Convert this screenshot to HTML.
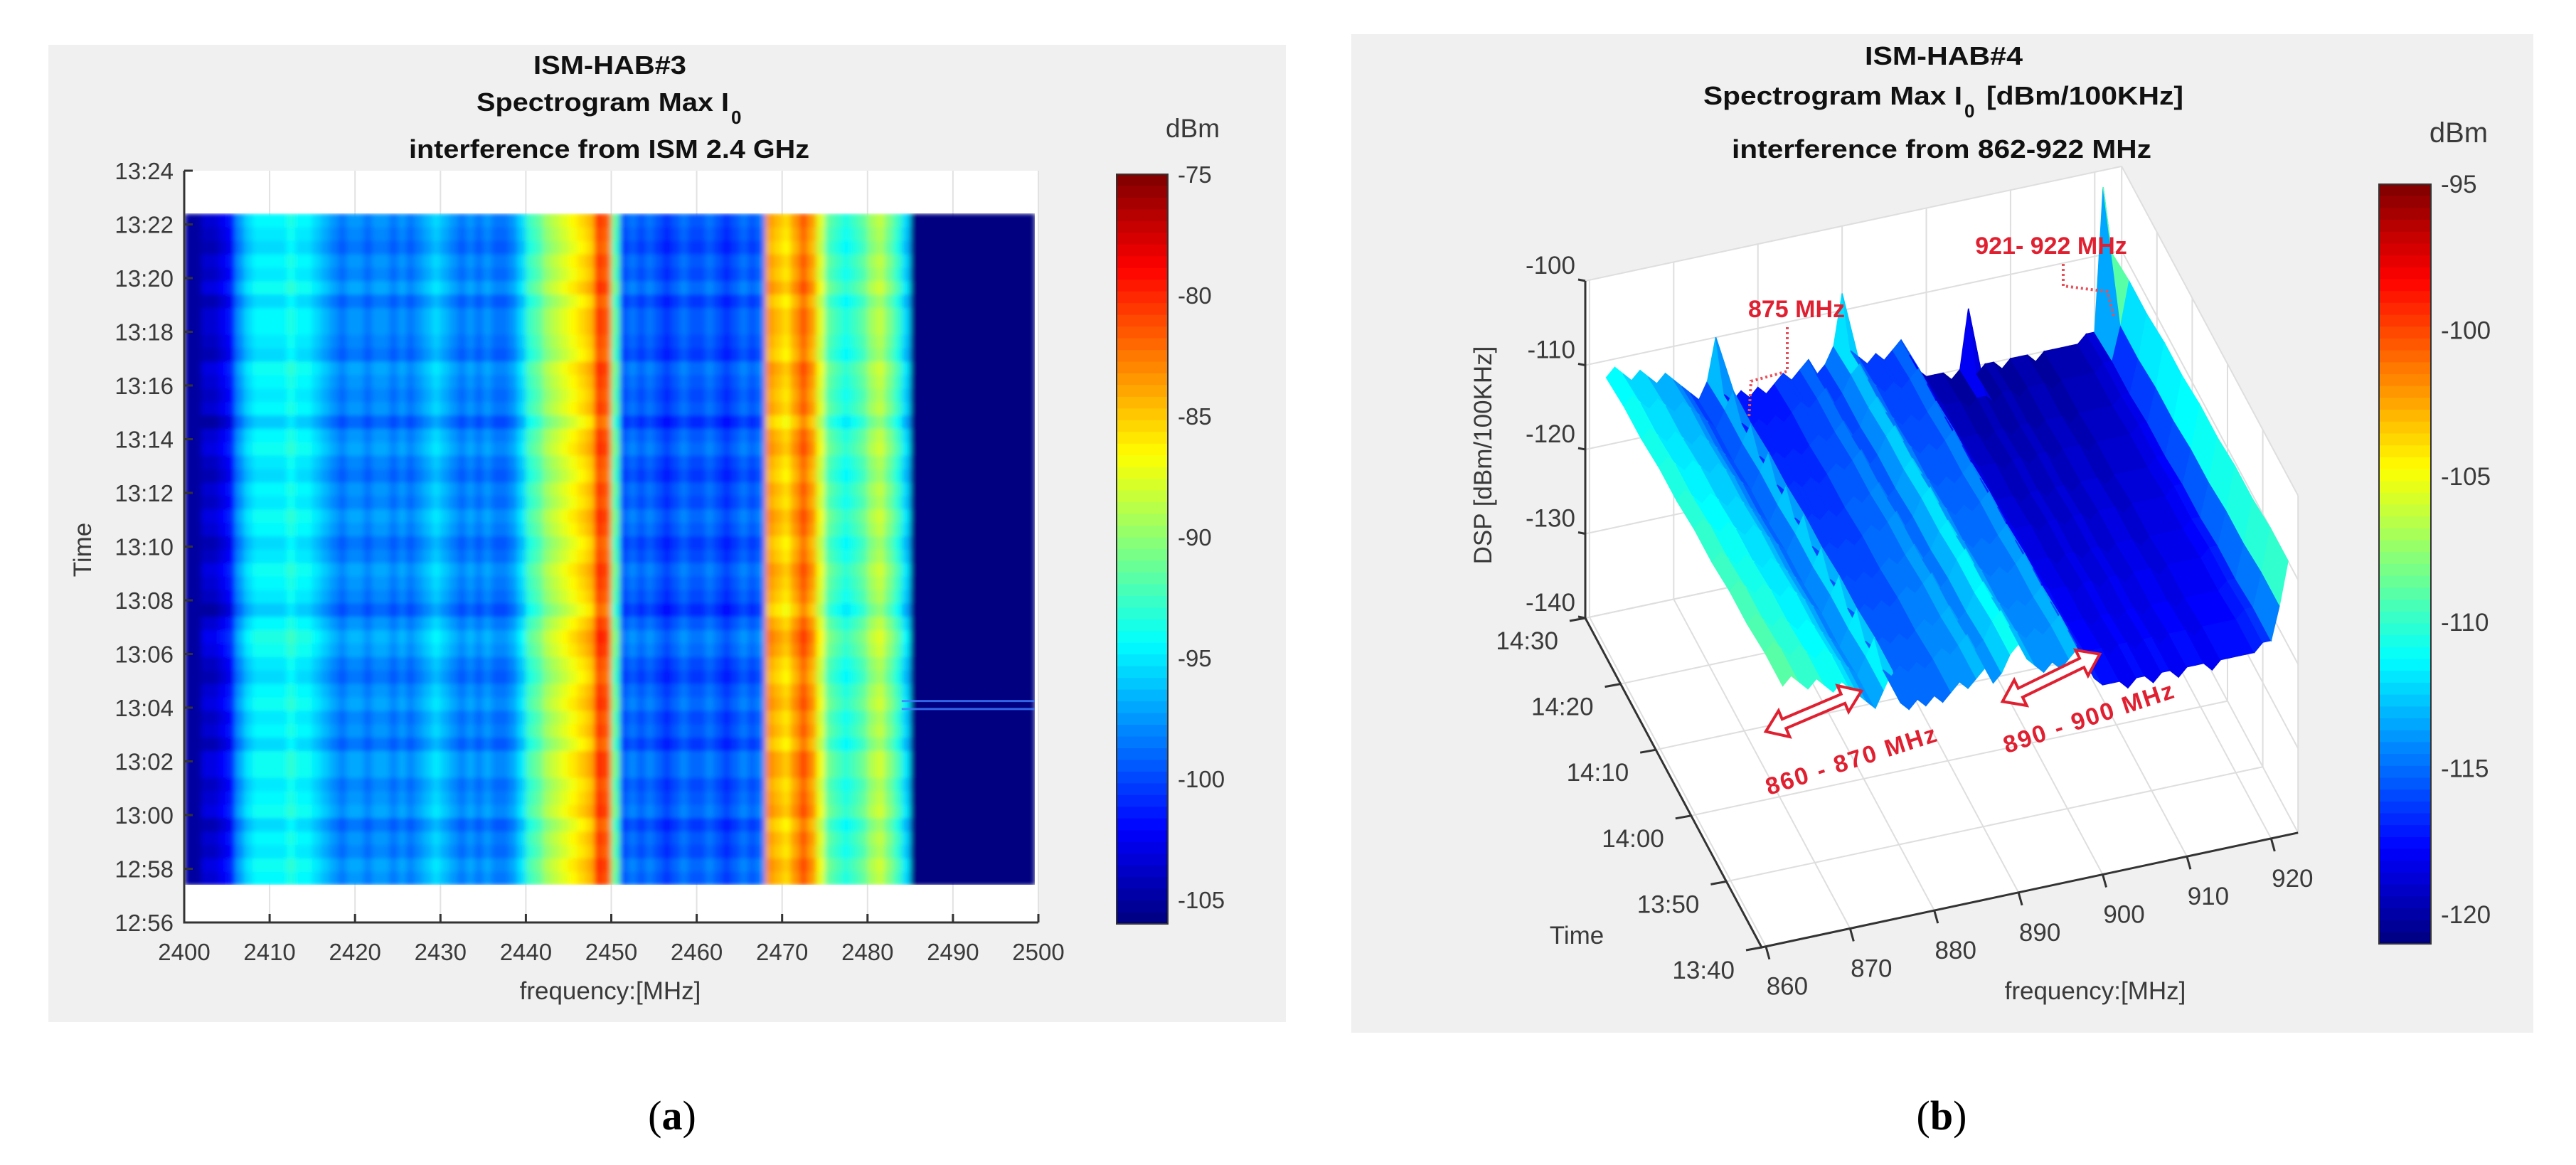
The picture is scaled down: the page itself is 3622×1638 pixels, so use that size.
<!DOCTYPE html>
<html><head><meta charset="utf-8"><title>ISM-HAB spectrograms</title>
<style>
html,body{margin:0;padding:0;background:#fff;}
svg{display:block;}
text{font-family:"Liberation Sans",sans-serif;}
.tk{font-size:33px;fill:#3a3a3a;}
.tt{font-size:36px;font-weight:bold;fill:#111;}
.rd{font-size:34px;font-weight:bold;fill:#e02030;}
.cap{font-family:"Liberation Serif",serif;font-size:58px;fill:#000;}
</style></head>
<body>
<svg id="fig" width="3622" height="1638" viewBox="0 0 3622 1638">
<defs>
  <clipPath id="clipA"><rect x="259" y="300" width="1196" height="944"/></clipPath>
  <filter id="blurA" x="-5%" y="-5%" width="110%" height="110%"><feGaussianBlur stdDeviation="4 3"/></filter>
</defs>
<rect x="0" y="0" width="3622" height="1638" fill="#fff"/>

<!-- Panel A -->
<g id="panelA">
  <rect x="68" y="63" width="1740" height="1374" fill="#f0f0f0"/>
  <text class="tt" x="750" y="104" textLength="215" lengthAdjust="spacingAndGlyphs">ISM-HAB#3</text>
  <text class="tt" x="670" y="156" textLength="355" lengthAdjust="spacingAndGlyphs">Spectrogram Max I</text>
  <text class="tt" x="1028" y="174" style="font-size:26px">0</text>
  <text class="tt" x="575" y="222" textLength="563" lengthAdjust="spacingAndGlyphs">interference from ISM 2.4 GHz</text>
  <rect x="259" y="240" width="1201" height="1057" fill="#fff"/>
  <g id="gridA"></g>
  <g clip-path="url(#clipA)"><g id="heatA" filter="url(#blurA)"></g></g>
  <g id="axesA"></g>
  <text class="tk" x="858" y="1405" text-anchor="middle" style="font-size:35px">frequency:[MHz]</text>
  <text class="tk" x="0" y="0" text-anchor="middle" style="font-size:35px" transform="translate(128,773) rotate(-90)">Time</text>
  <g id="cbarA"></g>
  <text class="tk" x="1677" y="193" text-anchor="middle" style="font-size:37px">dBm</text>
</g>
<text class="cap" x="945" y="1588" text-anchor="middle">(<tspan font-weight="bold">a</tspan>)</text>

<!-- Panel B -->
<g id="panelB">
  <rect x="1900" y="48" width="1662" height="1404" fill="#f0f0f0"/>
  <text class="tt" x="2622" y="91" textLength="222" lengthAdjust="spacingAndGlyphs">ISM-HAB#4</text>
  <text class="tt" x="2395" y="147" textLength="364" lengthAdjust="spacingAndGlyphs">Spectrogram Max I</text>
  <text class="tt" x="2762" y="165" style="font-size:26px">0</text>
  <text class="tt" x="2793" y="147" textLength="277" lengthAdjust="spacingAndGlyphs">[dBm/100KHz]</text>
  <text class="tt" x="2435" y="222" textLength="590" lengthAdjust="spacingAndGlyphs">interference from 862-922 MHz</text>
  <g id="boxB"></g>
  <g id="surfB"></g>
  <g id="axesB"></g>
  <text class="tk" x="0" y="0" text-anchor="middle" style="font-size:35px" transform="translate(2097,640) rotate(-90)">DSP [dBm/100KHz]</text>
  <text class="tk" x="2217" y="1327" text-anchor="middle" style="font-size:35px">Time</text>
  <text class="tk" x="2946" y="1405" text-anchor="middle" style="font-size:35px">frequency:[MHz]</text>
  <g id="cbarB"></g>
  <text class="tk" x="3457" y="200" text-anchor="middle" style="font-size:40px">dBm</text>
  <g id="annB">
    <text class="rd" x="2526" y="446" text-anchor="middle">875 MHz</text>
    <polyline points="2513,460 2513,522 2462,536 2459,589" fill="none" stroke="#e8505a" stroke-width="4" stroke-dasharray="3 4"/>
    <text class="rd" x="2884" y="357" text-anchor="middle">921- 922 MHz</text>
    <polyline points="2901,371 2901,402 2963,410 2972,444" fill="none" stroke="#e8505a" stroke-width="4" stroke-dasharray="3 4"/>
    <polygon points="-73,0 -45,-20 -45,-7 45,-7 45,-20 73,0 45,20 45,7 -45,7 -45,20" fill="#fff" stroke="#e02030" stroke-width="4" transform="translate(2550,1000) rotate(-23)"/>
    <polygon points="-76,0 -48,-20 -48,-7 48,-7 48,-20 76,0 48,20 48,7 -48,7 -48,20" fill="#fff" stroke="#e02030" stroke-width="4" transform="translate(2884,953) rotate(-26)"/>
    <text class="rd" x="0" y="0" text-anchor="middle" textLength="250" transform="translate(2606,1080) rotate(-17.8)">860 - 870 MHz</text>
    <text class="rd" x="0" y="0" text-anchor="middle" textLength="250" transform="translate(2940,1020) rotate(-18.4)">890 - 900 MHz</text>
  </g>
</g>
<text class="cap" x="2730" y="1588" text-anchor="middle">(<tspan font-weight="bold">b</tspan>)</text>
</svg>

<script>
// ---------- Panel A data ----------
const freqBinsA = [2400,2401,2402,2403,2404,2405,2406,2407,2408,2409,2410,2411,2412,2413,2414,2415,2416,2417,2418,2419,2420,2421,2422,2423,2424,2425,2426,2427,2428,2429,2430,2431,2432,2433,2434,2435,2436,2437,2438,2439,2440,2441,2442,2443,2444,2445,2446,2447,2448,2449,2450,2451,2452,2453,2454,2455,2456,2457,2458,2459,2460,2461,2462,2463,2464,2465,2466,2467,2468,2469,2470,2471,2472,2473,2474,2475,2476,2477,2478,2479,2480,2481,2482,2483,2484,2485,2486,2487,2488,2489,2490,2491,2492,2493,2494,2495,2496,2497,2498,2499];
const levelA = [-105,-105,-104,-104,-103,-102,-98,-96,-95,-95,
 -95,-95,-94,-95,-95,-96,-97,-98,-99,-98,
 -98,-99,-98,-98,-99,-98,-99,-98,-97,-96,
 -97,-98,-99,-98,-99,-98,-99,-99,-98,-96,
 -93,-92,-90,-89,-88,-87,-86,-85,-81,-82,
 -92,-100,-99,-100,-99,-100,-101,-100,-99,-100,
 -100,-99,-100,-101,-100,-99,-100,-99,-84,-85,
 -86,-84,-82,-84,-88,-92,-93,-94,-93,-92,
 -90,-89,-91,-93,-96,-106,-106,-106,-106,-106,
 -106,-106,-106,-106,-106,-106,-106,-106,-106,-106];
const rowStartA = 1.4, rowStepA = 0.5;
const rowOffsetA = [0.5,1,0,0.5,-0.5,1,0.5,0,1,1,-0.5,0.5,0,1,0.5,-0.5,0,1,1.5,0.5,-1,0,0.5,1,0,-0.5,0.5,1,0,0.5,-0.5,0,1,0.5,-1,0.5,0,0.5,1,-0.5,0,0.5,0.5,-0.5,1,0,0.5,-0.5,0,0.5];
const xTicksA = [2400,2410,2420,2430,2440,2450,2460,2470,2480,2490,2500];
const yTickLabelsA = ["12:56","12:58","13:00","13:02","13:04","13:06","13:08","13:10","13:12","13:14","13:16","13:18","13:20","13:22","13:24"];
const yTickMinA = [0,2,4,6,8,10,12,14,16,18,20,22,24,26,28];
const markerMinA = [8.25, 7.95];
const cbarTicksA = [-75,-80,-85,-90,-95,-100,-105];
const cminA = -106, cmaxA = -75;

// ---------- Panel B data ----------
const freqBinsB = [862,863,864,865,866,867,868,869,870,871,872,873,874,875,876,877,878,879,880,881,882,883,884,885,886,887,888,889,890,891,892,893,894,895,896,897,898,899,900,901,902,903,904,905,906,907,908,909,910,911,912,913,914,915,916,917,918,919,920,921,922];
const levelB = [-111,-110,-111,-112,-111,-112,-113,-112,-113,-114,
 -115,-116,-114,-112,-116,-117,-116,-117,-116,-117,
 -116,-115,-116,-115,-114,-116,-115,-113,-112,-114,
 -115,-116,-115,-116,-115,-114,-116,-118,-119,-119,
 -119,-120,-119,-119,-120,-119,-119,-120,-119,-119,
 -119,-120,-119,-119,-119,-119,-119,-118,-118,-114,-109];
const timeMinB = [0,5,10,15,20,25,30,35,40,45,50];
const timeOffsetB = [1.5,1.5,1,1,0.5,0.5,0,0,-0.5,-0.5,-1];
const peakFreqB = [875,890,905,921];
const peakLevelB = [-110,-108,-113,-102];
const fTicksB = [860,870,880,890,900,910,920];
const tTickMinB = [0,10,20,30,40,50];
const tTickLabelsB = ["13:40","13:50","14:00","14:10","14:20","14:30"];
const zTicksB = [-140,-130,-120,-110,-100];
const cbarTicksB = [-95,-100,-105,-110,-115,-120];
const cminB = -121, cmaxB = -95;

// ---------- helpers ----------
const SVGNS = document.getElementById('fig').namespaceURI;
function mk(tag, attrs, parent){const e=document.createElementNS(SVGNS,tag);for(const k in attrs)e.setAttribute(k,attrs[k]);parent.appendChild(e);return e;}
function jet(t){t=Math.max(0,Math.min(1,t));const c=x=>Math.round(255*Math.max(0,Math.min(1,1.5-Math.abs(4*t-x))));return 'rgb('+c(3)+','+c(2)+','+c(1)+')';}

// ---------- Panel A ----------
const xA = f => 259 + (f-2400)*12.01;
const yA = m => 1297 - m*37.75;
const colA = v => jet((v-cminA)/(cmaxA-cminA));
const gridA=document.getElementById('gridA'), heatA=document.getElementById('heatA'), axesA=document.getElementById('axesA'), cbarA=document.getElementById('cbarA');
xTicksA.forEach(f=>{const l=mk('line',{x1:xA(f),x2:xA(f),y1:240,y2:1297,stroke:'#e2e2e2','stroke-width':2},gridA);

});
rowOffsetA.forEach((off,r)=>{
  const m0=rowStartA+r*rowStepA;
  freqBinsA.forEach((f,i)=>{
    let v=levelA[i]; if(v>-105) v+=off;
    const x0=xA(f), x1=Math.min(xA(f+1),xA(2499.6));
    const rc=mk('rect',{x:x0,y:yA(m0+rowStepA),width:x1-x0+0.6,height:yA(m0)-yA(m0+rowStepA)+0.6,fill:colA(v)},heatA);
    
    
  });
});
markerMinA.forEach(m=>{const l=mk('line',{x1:xA(2484),x2:xA(2499.6),y1:yA(m),y2:yA(m),stroke:'#3f7dff','stroke-width':3,'stroke-opacity':0.8},heatA.parentNode);

});
{const a=mk('polyline',{points:'259,240 259,1297 1460,1297',fill:'none',stroke:'#333','stroke-width':3},axesA);

}
xTicksA.forEach(f=>{
  const t=mk('line',{x1:xA(f),x2:xA(f),y1:1297,y2:1285,stroke:'#333','stroke-width':3},axesA);
  
  
  const tx=mk('text',{x:xA(f),y:1350,'text-anchor':'middle',class:'tk'},axesA);tx.textContent=f;
  
  
});
yTickMinA.forEach((m,i)=>{
  const t=mk('line',{x1:259,x2:271,y1:yA(m),y2:yA(m),stroke:'#333','stroke-width':3},axesA);
  
  
  const tx=mk('text',{x:244,y:yA(m)+12,'text-anchor':'end',class:'tk'},axesA);tx.textContent=yTickLabelsA[i];
  
  
});
const cyA = v => 245 + (cmaxA-v)*34.0;
for(let k=0;k<64;k++){const v0=cmaxA-(cmaxA-cminA)*k/64, v1=cmaxA-(cmaxA-cminA)*(k+1)/64;
 const r=mk('rect',{x:1570,y:cyA(v0),width:72,height:cyA(v1)-cyA(v0)+0.8,fill:colA((v0+v1)/2)},cbarA);
 
 }
{const b=mk('rect',{x:1570,y:245,width:72,height:cyA(cminA)-245,fill:'none',stroke:'#333','stroke-width':2},cbarA);

}
cbarTicksA.forEach(v=>{const tx=mk('text',{x:1656,y:cyA(v)+12,class:'tk'},cbarA);tx.textContent=v;

});

// ---------- Panel B ----------
const F0=859.5, F1=923.2, T1=50;
function P(f,t,z){return [2477+(f-F0)*11.84+t*-4.96, 1332+(f-F0)*-2.53+t*-9.26-(z+140)*11.85];}
const pt = a => a[0].toFixed(1)+','+a[1].toFixed(1);
const colB = v => jet((v-cminB)/(cmaxB-cminB));
const boxB=document.getElementById('boxB'), surfB=document.getElementById('surfB'), axesB=document.getElementById('axesB'), cbarB=document.getElementById('cbarB');
{const w=mk('polygon',{points:[P(F0,T1,-140),P(F1,T1,-140),P(F1,T1,-100),P(F0,T1,-100)].map(pt).join(' '),fill:'#fff'},boxB);


const r=mk('polygon',{points:[P(F1,0,-140),P(F1,T1,-140),P(F1,T1,-100),P(F1,0,-100)].map(pt).join(' '),fill:'#fff'},boxB);


const fl=mk('polygon',{points:[P(F0,0,-140),P(F1,0,-140),P(F1,T1,-140),P(F0,T1,-140)].map(pt).join(' '),fill:'#fff'},boxB);

}
function gl(a,b,name){const l=mk('line',{x1:a[0],y1:a[1],x2:b[0],y2:b[1],stroke:'#dedede','stroke-width':2},boxB);

}
fTicksB.forEach(f=>{gl(P(f,0,-140),P(f,T1,-140),'floor-grid-freq');gl(P(f,T1,-140),P(f,T1,-100),'back-wall-grid-freq');});
tTickMinB.forEach(t=>{gl(P(F0,t,-140),P(F1,t,-140),'floor-grid-time');gl(P(F1,t,-140),P(F1,t,-100),'right-wall-grid-time');});
zTicksB.forEach(z=>{gl(P(F0,T1,z),P(F1,T1,z),'back-wall-grid-z');gl(P(F1,0,z),P(F1,T1,z),'right-wall-grid-z');});
function valB(i,j){let v=levelB[i]+timeOffsetB[j];
  if(j===timeMinB.length-1){const k=peakFreqB.indexOf(freqBinsB[i]);if(k>=0)v=Math.max(v,peakLevelB[k]);}
  return v;}
for(let j=timeMinB.length-2;j>=0;j--){
  for(let i=0;i<freqBinsB.length-1;i++){
    const f0=freqBinsB[i],f1=freqBinsB[i+1],t0=timeMinB[j],t1=timeMinB[j+1];
    const a=valB(i,j),b=valB(i+1,j),c=valB(i+1,j+1),d=valB(i,j+1);
    const col=colB((a+b+c+d)/4);
    const q=mk('polygon',{points:[P(f0,t0,a),P(f1,t0,b),P(f1,t1,c),P(f0,t1,d)].map(pt).join(' '),fill:col,stroke:col,'stroke-width':1.5},surfB);
    
    
  }
}
{const ax=mk('polyline',{points:[P(F0,T1,-100),P(F0,T1,-140),P(F0,0,-140),P(F1,0,-140)].map(pt).join(' '),fill:'none',stroke:'#333','stroke-width':3},axesB);

}
zTicksB.forEach(z=>{const p=P(F0,T1,z);
  const t=mk('line',{x1:p[0]-10,y1:p[1]-2,x2:p[0],y2:p[1],stroke:'#333','stroke-width':3},axesB);
  
  
  const tx=mk('text',{x:p[0]-14,y:p[1]-10,'text-anchor':'end',class:'tk',style:'font-size:35px'},axesB);tx.textContent=z;
  
  });
tTickMinB.forEach((t,i)=>{const p=P(F0,t,-140);
  const l=mk('line',{x1:p[0]-22,y1:p[1]+4,x2:p[0],y2:p[1],stroke:'#333','stroke-width':3},axesB);
  
  
  const tx=mk('text',{x:p[0]-38,y:p[1]+44,'text-anchor':'end',class:'tk',style:'font-size:35px'},axesB);tx.textContent=tTickLabelsB[i];
  
  });
fTicksB.forEach(f=>{const p=P(f,0,-140);
  const l=mk('line',{x1:p[0],y1:p[1],x2:p[0]+5,y2:p[1]+18,stroke:'#333','stroke-width':3},axesB);
  
  
  const tx=mk('text',{x:p[0]+30,y:p[1]+68,'text-anchor':'middle',class:'tk',style:'font-size:35px'},axesB);tx.textContent=f;
  
  });
const cyB = v => 259 + (cmaxB-v)*41.08;
for(let k=0;k<64;k++){const v0=cmaxB-(cmaxB-cminB)*k/64, v1=cmaxB-(cmaxB-cminB)*(k+1)/64;
 const r=mk('rect',{x:3345,y:cyB(v0),width:73,height:cyB(v1)-cyB(v0)+0.8,fill:colB((v0+v1)/2)},cbarB);
 
 }
{const b=mk('rect',{x:3345,y:259,width:73,height:cyB(cminB)-259,fill:'none',stroke:'#333','stroke-width':2},cbarB);

}
cbarTicksB.forEach(v=>{const tx=mk('text',{x:3432,y:cyB(v)+12,class:'tk',style:'font-size:35px'},cbarB);tx.textContent=v;

});
</script>
</body></html>
